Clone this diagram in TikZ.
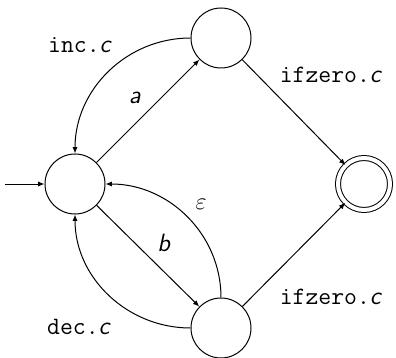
\documentclass[tikz,border=0pt]{standalone}
\usepackage{fontspec}
\usetikzlibrary{arrows.meta}
\tikzset{
  state/.style={circle, draw, line width=0.5pt, minimum size=30pt, inner sep=0pt},
  accept/.style={state, double, double distance=2pt, minimum size=26pt},
  trans/.style={line width=0.5pt, -{Latex[length=3.2pt,width=2.6pt]}},
  lbl/.style={inner sep=0pt, font=\fontsize{12.5}{14}\selectfont},
}
\newcommand{\sym}[1]{{\fontsize{12.5}{14}\selectfont\textsf{\itshape #1}}}
\begin{document}
\begin{tikzpicture}[x=0.5pt,y=-0.5pt]
  \useasboundingbox (0,0) rectangle (396,358);
  % states
  \node[state] (L) at (75,184) {};
  \node[state] (T) at (221,38) {};
  \node[state] (B) at (221,328) {};
  \node[accept] (F) at (364,184) {};
  \coordinate (start) at (5,184);
  % transitions
  \draw[trans] (start) -- (L);
  \draw[trans] (L) -- (T);
  \draw[trans] (L) -- (B);
  \draw[trans] (T) -- (F);
  \draw[trans] (B) -- (F);
  \draw[trans] (T.west) to[out=180,in=90] (L.north);
  \draw[trans] (B.west) to[out=180,in=-90] (L.south);
  \draw[trans] (B.north) to[out=90,in=0] (L.east);
  % labels
  \node[lbl] (linc) at (80,45) {\texttt{inc.}\sym{c}};
  \node[lbl] (la) at (135,98) {\sym{a}};
  \node[lbl] (lzt) at (331,75) {\texttt{ifzero.}\sym{c}};
  \node[lbl] (leps) at (201,204) {$\varepsilon$};
  \node[lbl] (lb) at (164,243) {\sym{b}};
  \node[lbl] (lzb) at (331,297) {\texttt{ifzero.}\sym{c}};
  \node[lbl] (ldec) at (79,327) {\texttt{dec.}\sym{c}};
\end{tikzpicture}
\end{document}
